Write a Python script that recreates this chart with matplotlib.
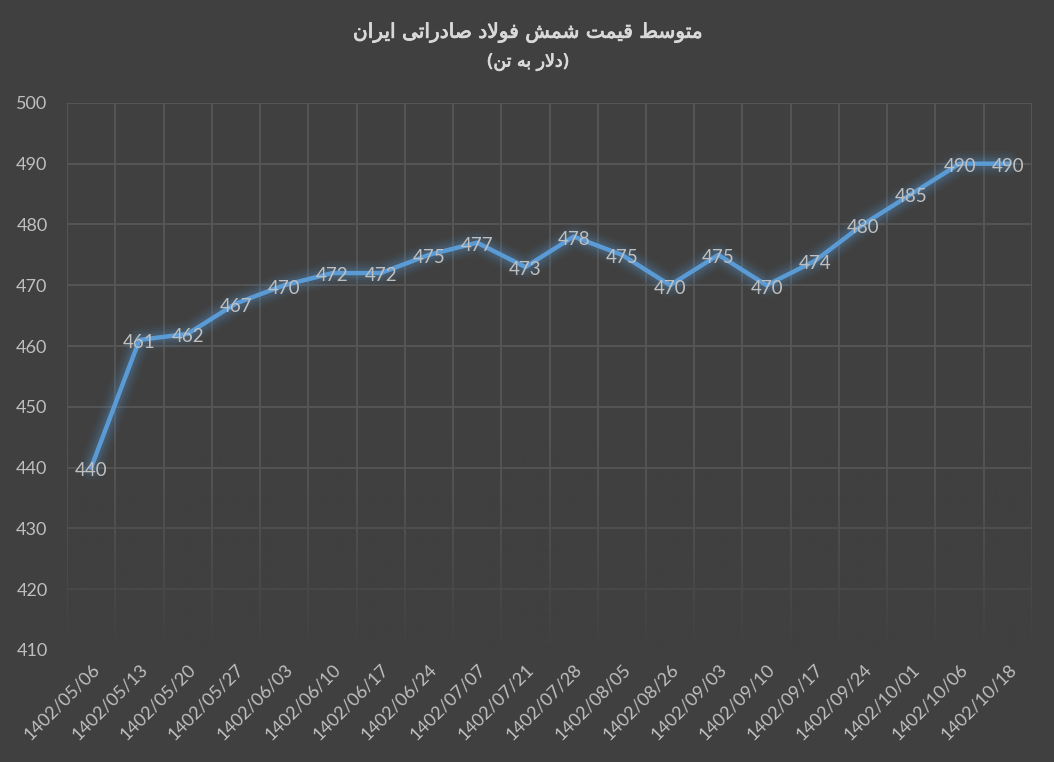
import matplotlib
matplotlib.use("Agg")
import matplotlib.pyplot as plt
import matplotlib.patheffects as pe
import numpy as np

dates = ["1402/05/06", "1402/05/13", "1402/05/20", "1402/05/27", "1402/06/03",
         "1402/06/10", "1402/06/17", "1402/06/24", "1402/07/07", "1402/07/21",
         "1402/07/28", "1402/08/05", "1402/08/26", "1402/09/03", "1402/09/10",
         "1402/09/17", "1402/09/24", "1402/10/01", "1402/10/06", "1402/10/18"]
prices = [440, 461, 462, 467, 470, 472, 472, 475, 477, 473,
          478, 475, 470, 475, 470, 474, 480, 485, 490, 490]
title = "متوسط قیمت شمش فولاد صادراتی ایران"
subtitle = "(دلار به تن)"

BG = "#404040"
GRID = "#575757"
TXT = "#BFBFBF"
LINE = "#5B9BD5"

# minimal arabic shaping: (isolated, final, initial, medial)
FORMS = {
    'ا': (0xFE8D, 0xFE8E, None, None),
    'ب': (0xFE8F, 0xFE90, 0xFE91, 0xFE92),
    'ت': (0xFE95, 0xFE96, 0xFE97, 0xFE98),
    'د': (0xFEA9, 0xFEAA, None, None),
    'ر': (0xFEAD, 0xFEAE, None, None),
    'س': (0xFEB1, 0xFEB2, 0xFEB3, 0xFEB4),
    'ش': (0xFEB5, 0xFEB6, 0xFEB7, 0xFEB8),
    'ص': (0xFEB9, 0xFEBA, 0xFEBB, 0xFEBC),
    'ط': (0xFEC1, 0xFEC2, 0xFEC3, 0xFEC4),
    'ف': (0xFED1, 0xFED2, 0xFED3, 0xFED4),
    'ق': (0xFED5, 0xFED6, 0xFED7, 0xFED8),
    'ل': (0xFEDD, 0xFEDE, 0xFEDF, 0xFEE0),
    'م': (0xFEE1, 0xFEE2, 0xFEE3, 0xFEE4),
    'ن': (0xFEE5, 0xFEE6, 0xFEE7, 0xFEE8),
    'ه': (0xFEE9, 0xFEEA, 0xFEEB, 0xFEEC),
    'و': (0xFEED, 0xFEEE, None, None),
    'ی': (0xFBFC, 0xFBFD, 0xFBFE, 0xFBFF),
    '\uFEFB': (0xFEFB, 0xFEFC, None, None),
}
MIRROR = {'(': ')', ')': '('}


def shape(text):
    chars = list(text.replace('لا', '\uFEFB'))
    out = []
    for i, c in enumerate(chars):
        if c not in FORMS:
            out.append(MIRROR.get(c, c))
            continue
        iso, fin, ini, med = FORMS[c]
        prev = chars[i - 1] if i > 0 else None
        nxt = chars[i + 1] if i + 1 < len(chars) else None
        p = prev in FORMS and FORMS[prev][2] is not None
        n = nxt in FORMS
        if p and n and med:
            out.append(chr(med))
        elif p:
            out.append(chr(fin))
        elif n and ini:
            out.append(chr(ini))
        else:
            out.append(chr(iso))
    return ''.join(reversed(out))


plt.rcParams['font.family'] = ['Lato', 'DejaVu Sans']

fig = plt.figure(figsize=(10.54, 7.62), dpi=100, facecolor=BG)
ax = fig.add_axes([0.0636, 0.147, 0.9155, 0.718])
ax.set_facecolor(BG)

x = np.arange(len(prices))

# grid
for yv in range(420, 501, 10):
    ax.axhline(yv, color=GRID, lw=1.3, zorder=0.5)
for xv in np.arange(-0.5, len(prices), 1.0):
    ax.axvline(xv, color=GRID, lw=1.3, zorder=0.5)

# grid fades out towards the bottom
fade = np.zeros((200, 1, 4))
fade[..., :3] = matplotlib.colors.to_rgb(BG)
fade[:, 0, 3] = np.linspace(1.0, 0.0, 200) ** 1.5
ax.imshow(fade, extent=[-0.6, len(prices) - 0.4, 410, 445], aspect='auto',
          origin='lower', zorder=0.8, interpolation='bilinear')

# glow
for w, a in [(18, 0.05), (14, 0.07), (10, 0.09), (7, 0.12)]:
    ax.plot(x, prices, color=LINE, lw=w, alpha=a, solid_capstyle='round',
            solid_joinstyle='round', zorder=1.5)
ax.plot(x, prices, color=LINE, lw=3.2, solid_joinstyle='round', zorder=2)

for xi, v in zip(x, prices):
    ax.annotate(str(v), (xi, v), xytext=(0, -2), textcoords='offset points',
                ha='center', va='center', fontsize=13.5, color=TXT, zorder=3)

ax.set_xlim(-0.5, len(prices) - 0.5)
ax.set_ylim(410, 500)
ax.set_yticks(range(410, 501, 10))
ax.set_xticks(x)
ax.set_xticklabels(dates, rotation=45, ha='right', rotation_mode='anchor')
ax.tick_params(axis='both', length=0, colors=TXT, labelsize=13)
ax.tick_params(axis='y', pad=14)
ax.tick_params(axis='x', pad=8)
for s in ax.spines.values():
    s.set_visible(False)

semi = [pe.withStroke(linewidth=0.6, foreground="#D9D9D9")]
fig.text(0.501, 0.957, shape(title), ha='center', va='center', fontsize=14.5,
         color="#D9D9D9", family=['DejaVu Sans'], path_effects=semi)
fig.text(0.501, 0.919, shape(subtitle), ha='center', va='center', fontsize=12.5,
         color="#D9D9D9", family=['DejaVu Sans'], path_effects=semi)

fig.savefig("out.png", dpi=100, facecolor=BG)
